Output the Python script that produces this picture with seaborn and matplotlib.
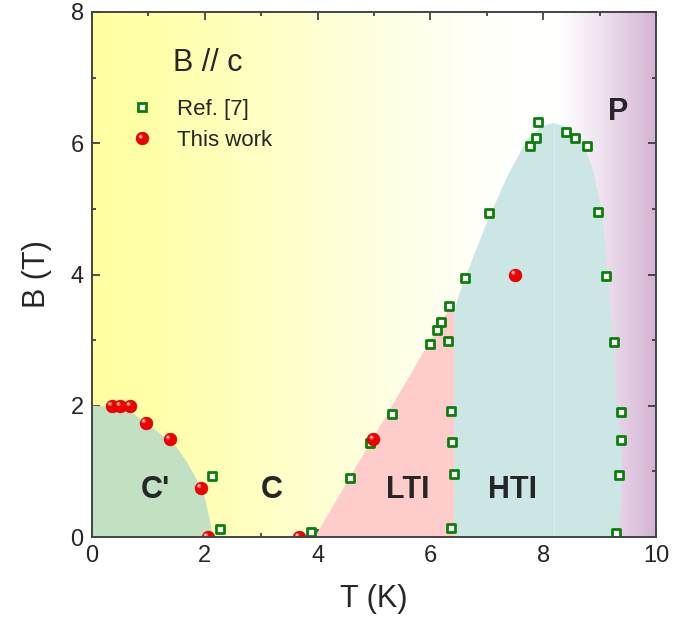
import numpy as np
import pandas as pd
import matplotlib
matplotlib.use("Agg")
import matplotlib.pyplot as plt
from matplotlib.path import Path
from matplotlib.lines import Line2D
from matplotlib.legend_handler import HandlerTuple
from matplotlib.colors import to_rgb
import seaborn as sns

# Measured phase points (Ref. [7])
ref_T = [2.13, 2.27, 3.88, 4.57, 4.93, 5.32, 5.99, 6.12, 6.19, 6.31, 6.33,
         6.37, 6.38, 6.42, 6.37, 6.62, 7.04, 7.76, 7.88, 7.91, 8.40, 8.56,
         8.78, 8.98, 9.11, 9.26, 9.38, 9.38, 9.34, 9.29]
ref_B = [0.93, 0.12, 0.08, 0.90, 1.43, 1.87, 2.94, 3.16, 3.27, 2.99, 3.52,
         1.92, 1.45, 0.96, 0.14, 3.95, 4.93, 5.96, 6.08, 6.33, 6.17, 6.08,
         5.96, 4.95, 3.98, 2.97, 1.90, 1.48, 0.95, 0.06]

# Measured phase points (this work)
tw_T = [0.35, 0.50, 0.68, 0.95, 1.38, 1.93, 2.05, 3.67, 4.99, 7.50]
tw_B = [2.00, 2.00, 2.00, 1.74, 1.49, 0.75, 0.00, 0.00, 1.49, 4.00]

# Phase boundaries
cp_T = [0, 0.40, 0.70, 0.97, 1.20, 1.50, 1.70, 1.86, 2.00, 2.06, 2.11, 2.13]
cp_B = [2.00, 1.98, 1.90, 1.73, 1.58, 1.37, 1.12, 0.87, 0.60, 0.37, 0.18, 0.0]

lti_T = [3.95, 6.36, 6.42, 6.42]
lti_B = [0.0, 3.52, 3.52, 0.0]

hti_T = [6.42, 6.42, 6.48, 6.62, 7.00, 7.36, 7.71, 7.95, 8.17, 8.40, 8.60,
         8.75, 8.88, 9.04, 9.18, 9.31, 9.40, 9.38, 9.33]
hti_B = [0.0, 3.40, 3.62, 3.96, 4.79, 5.49, 6.05, 6.25, 6.31, 6.25, 6.10,
         5.90, 5.60, 4.98, 3.60, 2.09, 1.07, 0.50, 0.0]

# Background colour stops along T (yellow C phase -> white -> purple P phase)
bg_T = [0.0, 1.0, 3.0, 5.0, 7.0, 8.3, 9.0, 10.0]
bg_col = ["#ffffa2", "#ffffa8", "#ffffc4", "#ffffe0", "#fffffa", "#ffffff",
          "#f0e4f0", "#d4b4d4"]

region_labels = ["C'", "C", "LTI", "HTI", "P"]
label_T = [1.12, 3.19, 5.60, 7.45, 9.33]
label_B = [0.72, 0.72, 0.72, 0.72, 6.48]

sns.set_theme(style="ticks")
plt.rcParams["font.family"] = ["Liberation Sans", "DejaVu Sans"]

fig = plt.figure(figsize=(6.98, 6.25), dpi=100)
ax = fig.add_axes([92 / 698, 1 - 537 / 625, 564 / 698, 525 / 625])

# gradient background
grid = np.linspace(0, 10, 600)
rgb = np.array([to_rgb(c) for c in bg_col])
img = np.stack([np.interp(grid, bg_T, rgb[:, k]) for k in range(3)], axis=-1)
ax.imshow(img[np.newaxis, :, :], extent=[0, 10, 0, 8], aspect="auto",
          origin="lower", zorder=0, interpolation="bilinear")

# phase regions
ax.fill(cp_T + [0], cp_B + [0], color="#c2e0c2", lw=0, zorder=1)
ax.fill(lti_T, lti_B, color="#ffcccc", lw=0, zorder=1)
ax.fill(hti_T, hti_B, color="#cce5e5", lw=0, zorder=1)
ax.plot([8.2, 8.2], [0, 6.3], color="#d8ecec", lw=0.8, zorder=1.1)

# data
ref_df = pd.DataFrame({"T": ref_T, "B": ref_B})
tw_df = pd.DataFrame({"T": tw_T, "B": tw_B})

sq_ms, sq_mew, sq_col = 5.6, 2.0, "#0a800a"
sns.scatterplot(data=ref_df, x="T", y="B", marker="s", s=sq_ms ** 2,
                color="white", edgecolor=sq_col, linewidth=sq_mew,
                zorder=3, legend=False, ax=ax)


def spot(cx, cy, r):
    t = np.linspace(0, 2 * np.pi, 48)
    return Path(np.column_stack([cx + r * np.cos(t), cy + r * np.sin(t)]))


# shaded sphere: base disk, soft glow and specular spot toward the upper left
sp_ms = 9.2
glow = spot(-0.28, 0.28, 0.34)
shine = spot(-0.32, 0.32, 0.16)
glow_ms = sp_ms * 0.62
shine_ms = sp_ms * 0.48
sns.scatterplot(data=tw_df, x="T", y="B", marker="o", s=sp_ms ** 2,
                color="#f20000", edgecolor="#c00000", linewidth=0.4,
                zorder=4, legend=False, ax=ax)
sns.scatterplot(data=tw_df, x="T", y="B", marker=glow, s=glow_ms ** 2,
                color="#ff5a5a", edgecolor="none", linewidth=0,
                zorder=5, legend=False, ax=ax)
sns.scatterplot(data=tw_df, x="T", y="B", marker=shine, s=shine_ms ** 2,
                color="#ffe4e4", edgecolor="none", linewidth=0,
                zorder=5.5, legend=False, ax=ax)

for txt, tx, ty in zip(region_labels, label_T, label_B):
    ax.text(tx, ty, txt, fontsize=22, fontweight="bold", ha="center",
            va="center", zorder=6)

ax.text(2.05, 7.22, "B // c", fontsize=22, ha="center", va="center", zorder=6)

h_sq = Line2D([], [], ls="none", marker="s", ms=sq_ms, mfc="white",
              mec=sq_col, mew=sq_mew)
h_sp = Line2D([], [], ls="none", marker="o", ms=sp_ms, mfc="#f20000",
              mec="#c00000", mew=0.4)
h_gl = Line2D([], [], ls="none", marker=glow, ms=glow_ms, mfc="#ff5a5a",
              mec="none")
h_sh = Line2D([], [], ls="none", marker=shine, ms=shine_ms, mfc="#ffe4e4",
              mec="none")
leg = ax.legend([h_sq, (h_sp, h_gl, h_sh)], ["Ref. [7]", "This work"],
                handler_map={tuple: HandlerTuple(ndivide=1, pad=0)},
                loc="upper left", bbox_to_anchor=(0.045, 0.855),
                frameon=False, fontsize=16, handlelength=1.2,
                handletextpad=1.0, labelspacing=0.45, borderpad=0)
leg.set_zorder(7)

ax.set_xlim(0, 10)
ax.set_ylim(0, 8)
ax.set_xticks(range(0, 11, 2))
ax.set_yticks(range(0, 9, 2))
ax.set_xticks(range(1, 10, 2), minor=True)
ax.set_yticks(range(1, 8, 2), minor=True)
ax.tick_params(which="both", direction="in", top=True, right=True,
               color="#333333", width=1.2)
ax.tick_params(which="major", length=6, labelsize=17, pad=6)
ax.tick_params(which="minor", length=3)
for sp in ax.spines.values():
    sp.set_color("#444444")
    sp.set_linewidth(1.4)
    sp.set_zorder(8)

ax.set_xlabel("T (K)", fontsize=22, labelpad=12)
ax.set_ylabel("B (T)", fontsize=22, labelpad=13)

fig.savefig("out.png", dpi=100)
